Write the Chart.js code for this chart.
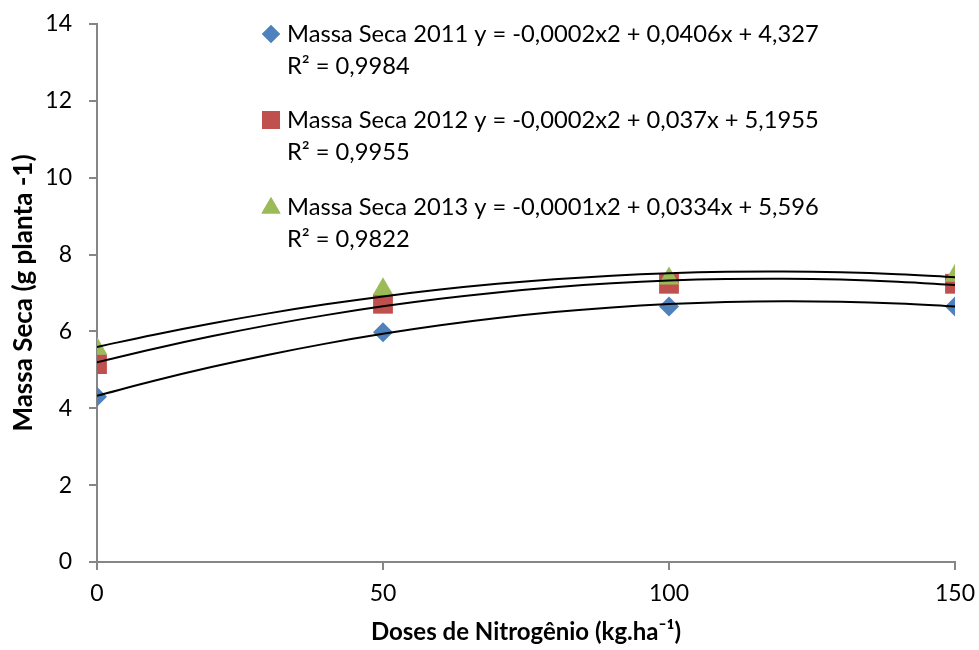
<!DOCTYPE html>
<html>
<head>
<meta charset="utf-8">
<script src="https://cdn.jsdelivr.net/npm/chart.js@4/dist/chart.umd.min.js"></script>
<style>
  html, body { margin: 0; padding: 0; background: #fff; }
  #wrap { width: 979px; height: 650px; }
</style>
</head>
<body>
<div id="wrap"><canvas id="chart" width="979" height="650"></canvas></div>
<script>
// doses (kg/ha)
const doses = [0, 50, 100, 150]
const seca2011 = [4.3, 5.98, 6.65, 6.65]
const seca2012 = [5.15, 6.72, 7.24, 7.24]
const seca2013 = [5.55, 7.1, 7.38, 7.45]

// trend curves, every 10 kg/ha
const trendX = [0, 10, 20, 30, 40, 50, 60, 70, 80, 90, 100, 110, 120, 130, 140, 150]
const trend2011 = [4.327, 4.716, 5.072, 5.394, 5.683, 5.938, 6.160, 6.349, 6.503, 6.625, 6.713, 6.767, 6.788, 6.775, 6.729, 6.650]
const trend2012 = [5.196, 5.550, 5.873, 6.164, 6.424, 6.653, 6.850, 7.015, 7.149, 7.252, 7.324, 7.363, 7.372, 7.349, 7.294, 7.209]
const trend2013 = [5.596, 5.916, 6.207, 6.470, 6.705, 6.911, 7.089, 7.238, 7.359, 7.452, 7.516, 7.552, 7.559, 7.538, 7.489, 7.411]

const yTicks = [0, 2, 4, 6, 8, 10, 12, 14]
const xTicks = [0, 50, 100, 150]

const legendLines = [
  ['Massa Seca 2011 y = -0,0002x2 + 0,0406x + 4,327', 'R² = 0,9984'],
  ['Massa Seca 2012 y = -0,0002x2 + 0,037x + 5,1955', 'R² = 0,9955'],
  ['Massa Seca 2013 y = -0,0001x2 + 0,0334x + 5,596', 'R² = 0,9822']
]

const FONT = 'Lato, "Open Sans", sans-serif'
const AXIS = '#868686'

const pts = (xs, ys) => xs.map((x, i) => ({ x: x, y: ys[i] }))

const markerSet = (label, ys, color, style, radius, order) => ({
  label: label,
  data: pts(doses, ys),
  showLine: false,
  pointStyle: style,
  pointRadius: radius,
  pointHoverRadius: radius,
  backgroundColor: color,
  borderColor: color,
  borderWidth: 0,
  order: order
})

const trendSet = (ys) => ({
  data: pts(trendX, ys),
  showLine: true,
  pointRadius: 0,
  borderColor: '#000',
  borderWidth: 2,
  tension: 0.4,
  fill: false,
  order: 0
})

// draws the in-plot legend with the equations
const equationLegend = {
  id: 'equationLegend',
  afterDraw (chart) {
    const ctx = chart.ctx
    const markers = [
      { style: 'rectRot', color: '#4F81BD', r: 9 },
      { style: 'rect', color: '#C0504D', r: 12.7 },
      { style: 'triangle', color: '#9BBB59', r: 11 }
    ]
    const rows = [34, 120, 207]
    ctx.save()
    ctx.font = '23.7px ' + FONT
    ctx.textBaseline = 'middle'
    legendLines.forEach((lines, i) => {
      const m = markers[i]
      ctx.fillStyle = m.color
      Chart.helpers.drawPoint(ctx, { pointStyle: m.style, radius: m.r, borderWidth: 0 }, 271, rows[i] + (m.style === 'triangle' ? 1 : 0))
      ctx.fill()
      ctx.fillStyle = '#000'
      ctx.fillText(lines[0], 287, rows[i])
      ctx.fillText(lines[1], 287, rows[i] + 32)
    })
    ctx.restore()
  }
}

new Chart(document.getElementById('chart').getContext('2d'), {
  type: 'scatter',
  data: {
    datasets: [
      trendSet(trend2011),
      trendSet(trend2012),
      trendSet(trend2013),
      markerSet('Massa Seca 2011', seca2011, '#4F81BD', 'rectRot', 10, 3),
      markerSet('Massa Seca 2012', seca2012, '#C0504D', 'rect', 14, 2),
      markerSet('Massa Seca 2013', seca2013, '#9BBB59', 'triangle', 12, 1)
    ]
  },
  options: {
    responsive: false,
    animation: false,
    layout: { padding: { top: 24, right: 24, left: 0, bottom: 0 } },
    plugins: {
      legend: { display: false },
      tooltip: { enabled: false }
    },
    scales: {
      x: {
        type: 'linear',
        min: 0,
        max: 150,
        afterBuildTicks: (axis) => { axis.ticks = xTicks.map(v => ({ value: v })) },
        afterFit: (axis) => {
          axis.height = 88
          axis.paddingLeft = 0
          axis.paddingRight = 0
        },
        border: { color: AXIS, width: 2 },
        grid: { drawOnChartArea: false, color: AXIS, tickLength: 8, lineWidth: 2 },
        ticks: { color: '#000', padding: 10, font: { family: FONT, size: 23 } },
        title: {
          display: true,
          text: 'Doses de Nitrogênio (kg.ha⁻¹)',
          color: '#000',
          font: { family: FONT, size: 24, weight: 'bold' },
          padding: { top: 4, bottom: 3 }
        }
      },
      y: {
        min: 0,
        max: 14,
        afterBuildTicks: (axis) => { axis.ticks = yTicks.map(v => ({ value: v })) },
        afterFit: (axis) => {
          axis.width = 97
          axis.paddingTop = 0
          axis.paddingBottom = 0
        },
        border: { color: AXIS, width: 2 },
        grid: { drawOnChartArea: false, color: AXIS, tickLength: 8, lineWidth: 2 },
        ticks: { color: '#000', padding: 17, font: { family: FONT, size: 23 } },
        title: {
          display: true,
          text: 'Massa Seca (g planta -1)',
          color: '#000',
          font: { family: FONT, size: 26, weight: 'bold' },
          padding: { top: 8, bottom: 0 }
        }
      }
    }
  },
  plugins: [equationLegend]
})
</script>
</body>
</html>
